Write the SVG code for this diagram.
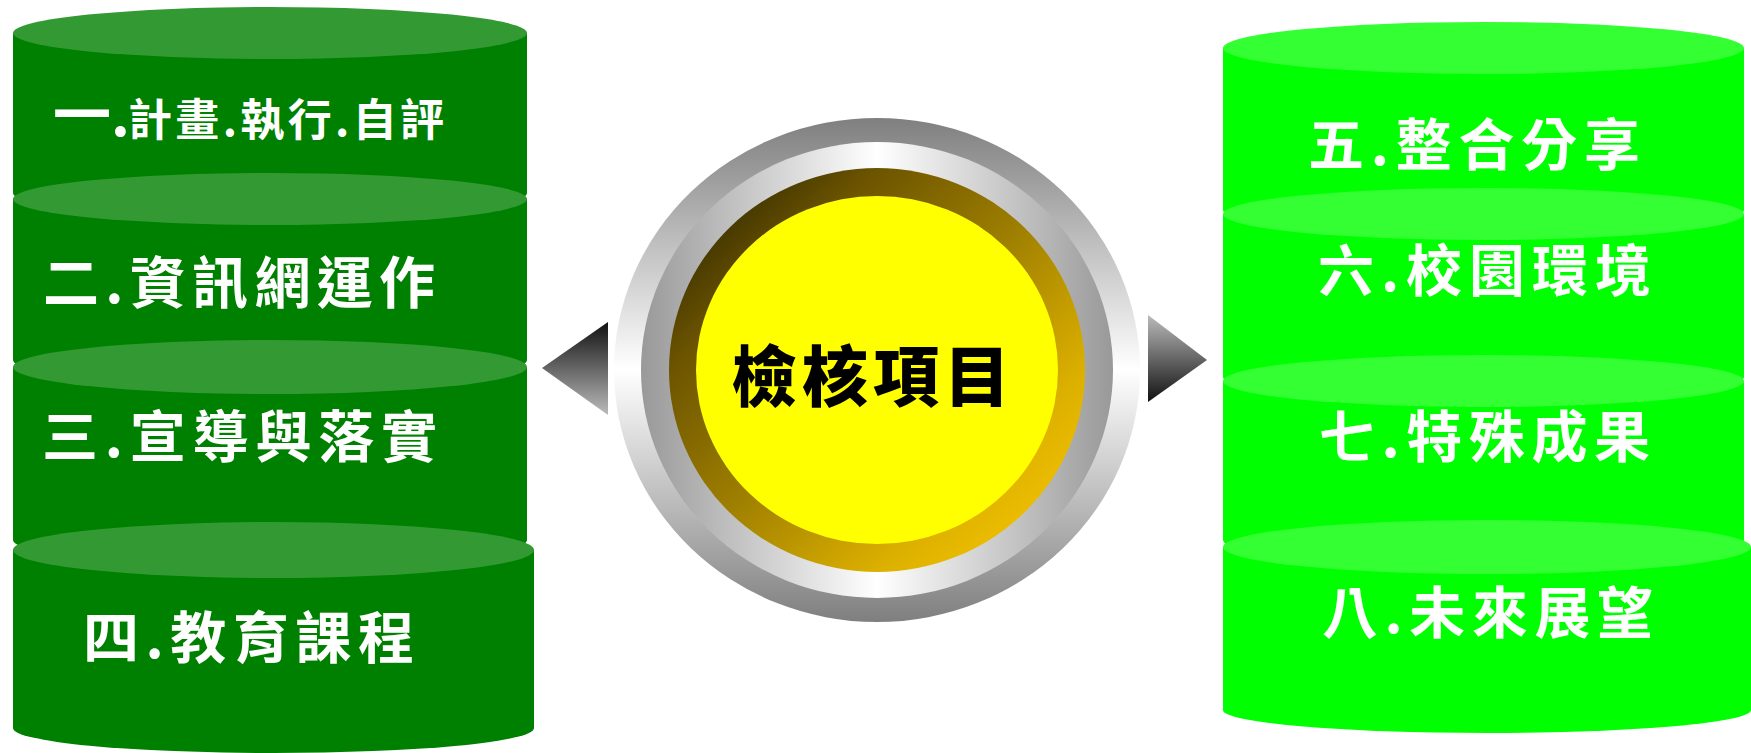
<svg xmlns="http://www.w3.org/2000/svg" width="1751" height="753" viewBox="0 0 1751 753">
<defs>
<style>
.bodyL{fill:#008000}
.topL{fill:#339933}
.bodyR{fill:#00ff00}
.topR{fill:#33ff33}
.lbl{font-family:"Noto Sans CJK TC","Noto Sans CJK SC",sans-serif;font-weight:700;fill:#ffffff}
.ctr{font-family:"Noto Sans CJK TC","Noto Sans CJK SC",sans-serif;font-weight:900;fill:#000000}
</style>
<linearGradient id="gOuter" x1="0" y1="0" x2="0" y2="1">
<stop offset="0" stop-color="#7f7f7f"/>
<stop offset="0.5" stop-color="#ffffff"/>
<stop offset="1" stop-color="#7f7f7f"/>
</linearGradient>
<linearGradient id="gInner" x1="0" y1="0" x2="1" y2="0">
<stop offset="0" stop-color="#999999"/>
<stop offset="0.5" stop-color="#ffffff"/>
<stop offset="1" stop-color="#999999"/>
</linearGradient>
<linearGradient id="gBrown" x1="0" y1="0" x2="1" y2="1">
<stop offset="0" stop-color="#2a2200"/>
<stop offset="0.12" stop-color="#3f3300"/>
<stop offset="0.25" stop-color="#6c5400"/>
<stop offset="0.5" stop-color="#a08000"/>
<stop offset="0.75" stop-color="#dcb000"/>
<stop offset="1" stop-color="#ffcc00"/>
</linearGradient>
<linearGradient id="gTriL" x1="0" y1="0" x2="0" y2="1">
<stop offset="0" stop-color="#111111"/>
<stop offset="1" stop-color="#bbbbbb"/>
</linearGradient>
<linearGradient id="gTriR" x1="0" y1="0" x2="0" y2="1">
<stop offset="0" stop-color="#bbbbbb"/>
<stop offset="1" stop-color="#111111"/>
</linearGradient>
</defs>
<rect x="0" y="0" width="1751" height="753" fill="#ffffff"/>

<g id="connectors">
<polygon points="542,368 608,322 608,415" fill="url(#gTriL)"/>
<polygon points="1148,315 1207,360 1148,402" fill="url(#gTriR)"/>
</g>

<g id="cyl1">
<path class="bodyL" d="M13,33 L13,193 A257,26 0 0 0 527,193 L527,33 Z"/>
<ellipse class="topL" cx="270" cy="33" rx="257" ry="26"/>
<text class="lbl" y="136"><tspan x="53" font-size="58">一.</tspan><tspan x="128" font-size="44" textLength="316" lengthAdjust="spacing">計畫.執行.自評</tspan></text>
</g>
<g id="cyl2">
<path class="bodyL" d="M13,199 L13,360 A257,26 0 0 0 527,360 L527,199 Z"/>
<ellipse class="topL" cx="270" cy="199" rx="257" ry="26"/>
<text class="lbl" x="43" y="303" font-size="56" textLength="392" lengthAdjust="spacing">二.資訊網運作</text>
</g>
<g id="cyl3">
<path class="bodyL" d="M13,367 L13,540 A257,26 0 0 0 527,540 L527,367 Z"/>
<ellipse class="topL" cx="270" cy="367" rx="257" ry="27"/>
<text class="lbl" x="42" y="457" font-size="56" textLength="395" lengthAdjust="spacing">三.宣導與落實</text>
</g>
<g id="cyl4">
<path class="bodyL" d="M13,550 L13,728 A260.5,25 0 0 0 534,728 L534,550 Z"/>
<ellipse class="topL" cx="273.5" cy="550" rx="260.5" ry="28"/>
<text class="lbl" x="83" y="658" font-size="56" textLength="331" lengthAdjust="spacing">四.教育課程</text>
</g>

<g id="cyl5">
<path class="bodyR" d="M1223,48 L1223,210 A260.5,26 0 0 0 1744,210 L1744,48 Z"/>
<ellipse class="topR" cx="1483.5" cy="48" rx="260.5" ry="26"/>
<text class="lbl" x="1308" y="165" font-size="56" textLength="332" lengthAdjust="spacing">五.整合分享</text>
</g>
<g id="cyl6">
<path class="bodyR" d="M1223,214 L1223,377 A260.5,26 0 0 0 1744,377 L1744,214 Z"/>
<ellipse class="topR" cx="1483.5" cy="214" rx="260.5" ry="26"/>
<text class="lbl" x="1318" y="291" font-size="56" textLength="333" lengthAdjust="spacing">六.校園環境</text>
</g>
<g id="cyl7">
<path class="bodyR" d="M1223,381 L1223,540 A260.5,26 0 0 0 1744,540 L1744,381 Z"/>
<ellipse class="topR" cx="1483.5" cy="381" rx="260.5" ry="26"/>
<text class="lbl" x="1319" y="457" font-size="56" textLength="331" lengthAdjust="spacing">七.特殊成果</text>
</g>
<g id="cyl8">
<path class="bodyR" d="M1223,547 L1223,710 A264,23 0 0 0 1751,710 L1751,547 Z"/>
<ellipse class="topR" cx="1487" cy="547" rx="264" ry="27"/>
<text class="lbl" x="1322" y="633" font-size="56" textLength="331" lengthAdjust="spacing">八.未來展望</text>
</g>

<g id="center">
<ellipse cx="877" cy="370" rx="263" ry="252" fill="url(#gOuter)"/>
<ellipse cx="877" cy="370" rx="236" ry="228" fill="url(#gInner)"/>
<ellipse cx="877" cy="370" rx="208" ry="202" fill="url(#gBrown)"/>
<ellipse cx="877" cy="370" rx="181" ry="174" fill="#ffff00"/>
<text class="ctr" x="731" y="401" font-size="66" textLength="279" lengthAdjust="spacing">檢核項目</text>
</g>
</svg>
